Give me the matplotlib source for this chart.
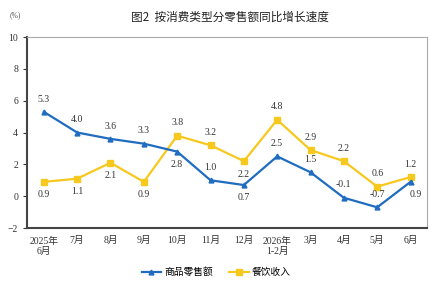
import matplotlib
matplotlib.use('Agg')
import matplotlib.pyplot as plt

plt.rcParams['font.family'] = ['Liberation Serif', 'Noto Sans CJK SC', 'DejaVu Sans']

# 月份与两条序列 (%)
months = ['2025年\n6月', '7月', '8月', '9月', '10月', '11月', '12月',
          '2026年\n1-2月', '3月', '4月', '5月', '6月']
goods = [5.3, 4.0, 3.6, 3.3, 2.8, 1.0, 0.7, 2.5, 1.5, -0.1, -0.7, 0.9]
catering = [0.9, 1.1, 2.1, 0.9, 3.8, 3.2, 2.2, 4.8, 2.9, 2.2, 0.6, 1.2]

# 标签在点的上方(1)或下方(-1)
goods_pos = [1, 1, 1, 1, -1, 1, -1, 1, 1, 1, 1, -1]
catering_pos = [-1, -1, -1, -1, 1, 1, -1, 1, 1, 1, 1, 1]

blue = '#1f6cc0'
yellow = '#f7c81e'

fig = plt.figure(figsize=(4.45, 2.85), dpi=100)
ax = fig.add_axes([0.061, 0.2, 0.899, 0.67])

x = list(range(len(months)))
ax.plot(x, goods, color=blue, lw=1.6, marker='^', ms=3.5, label='商品零售额', zorder=3)
ax.plot(x, catering, color=yellow, lw=1.6, marker='s', ms=4, label='餐饮收入', zorder=2)

for i in x:
    dx = 4 if i == len(x) - 1 else 0
    ax.annotate(f'{goods[i]:.1f}', (i, goods[i]), xytext=(dx, 6 * goods_pos[i]),
                textcoords='offset points', ha='center',
                va='bottom' if goods_pos[i] > 0 else 'top', fontsize=7, color='#333333')
    ax.annotate(f'{catering[i]:.1f}', (i, catering[i]), xytext=(0, 6 * catering_pos[i]),
                textcoords='offset points', ha='center',
                va='bottom' if catering_pos[i] > 0 else 'top', fontsize=7, color='#333333')

ax.set_xlim(-0.5, 11.5)
ax.set_ylim(-2, 10)
ax.set_yticks([-2, 0, 2, 4, 6, 8, 10])
ax.set_xticks(x)
ax.set_xticklabels(months, fontsize=7, color='#333333')
ax.tick_params(axis='x', length=0, pad=6)
ax.tick_params(axis='y', labelsize=7, length=3, colors='#333333')

for s in ['left', 'bottom']:
    ax.spines[s].set_color('#444444')
    ax.spines[s].set_linewidth(1.5)
for s in ['top', 'right']:
    ax.spines[s].set_color('#aaaaaa')
    ax.spines[s].set_linewidth(0.8)

fig.text(0.517, 0.94, '图2  按消费类型分零售额同比增长速度', ha='center', va='center',
         fontsize=8.4, family=['Noto Sans CJK SC', 'DejaVu Sans'], color='#222222')
fig.text(0.035, 0.945, '(%)', ha='center', va='center', fontsize=5.5, color='#555555')

fig.legend(loc='center', bbox_to_anchor=(0.486, 0.045), ncol=2, frameon=False,
           handlelength=2, handletextpad=0.3, columnspacing=1.7,
           prop={'family': ['Noto Sans CJK SC', 'DejaVu Sans'], 'size': 7})

fig.savefig('out.png', dpi=100)
